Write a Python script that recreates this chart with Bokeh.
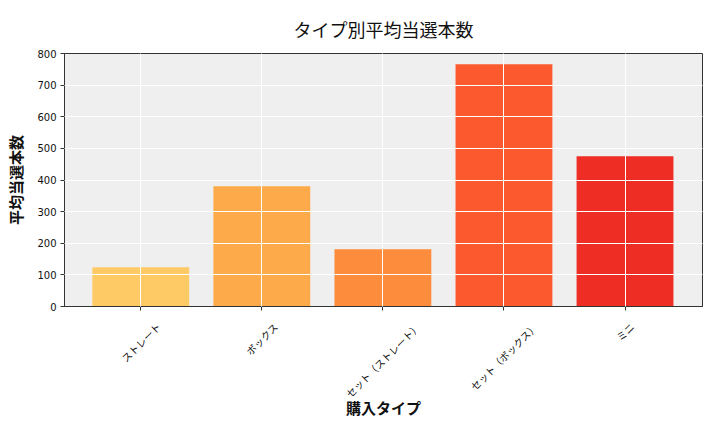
from bokeh.plotting import figure
from bokeh.models import Range1d, FixedTicker, LinearAxis, ColumnDataSource
from bokeh.embed import file_html
from bokeh.resources import INLINE
import math

categories = ["ストレート", "ボックス", "セット（ストレート）", "セット（ボックス）", "ミニ"]
avg_counts = [124, 380, 181, 766, 475]
colors = ["#FECA66", "#FDAA4A", "#FD8D3C", "#FC5A2E", "#EE2E24"]
y_ticks = [0, 100, 200, 300, 400, 500, 600, 700, 800]

FONT = "Noto Sans CJK JP"
TICK_PX = 10
FRAME_W = 638
X_START, X_END = -0.63, len(categories) - 1 + 0.64

pos = list(range(len(categories)))
src = ColumnDataSource(dict(x=pos, val=avg_counts, color=colors))

p = figure(
    frame_width=FRAME_W, frame_height=253,
    x_range=Range1d(X_START, X_END),
    y_range=Range1d(0, 800),
    output_backend="svg", toolbar_location=None,
    min_border_left=64, min_border_top=53, min_border_right=2, min_border_bottom=10,
)
p.title.text = "タイプ別平均当選本数"
p.title.align = "center"
p.title.text_font = FONT
p.title.text_font_size = "18px"
p.title.text_font_style = "normal"
p.title.text_color = "#111111"
p.title.standoff = 24

p.vbar(x="x", top="val", width=0.8, color="color", source=src, line_color=None)

p.background_fill_color = "#EFEFEF"
p.outline_line_color = "#333333"
p.outline_line_width = 1

for g in (p.xgrid, p.ygrid):
    g.grid_line_color = "white"
    g.grid_line_width = 1
    g.level = "overlay"

# main x axis: tick marks only
p.xaxis.ticker = FixedTicker(ticks=pos)
p.xaxis.major_label_text_color = None
p.xaxis.major_label_text_font_size = "1px"
p.xaxis.major_label_standoff = 0

# label axis: rotated labels centred under each tick (like matplotlib)
px_per_unit = FRAME_W / (X_END - X_START)
shift = [len(c) * TICK_PX / 2 * math.sqrt(0.5) / px_per_unit for c in categories]
label_ticks = [i + s for i, s in zip(pos, shift)]
lab_axis = LinearAxis(
    ticker=FixedTicker(ticks=label_ticks),
    major_label_overrides={t: c for t, c in zip(label_ticks, categories)},
    major_label_orientation=math.pi / 4,
    major_label_text_font=FONT, major_label_text_font_size=f"{TICK_PX}px",
    major_label_text_color="#111111", major_label_standoff=8,
    major_tick_line_color=None, minor_tick_line_color=None, axis_line_color=None,
    axis_label="購入タイプ", axis_label_text_font=FONT, axis_label_text_font_size="15px",
    axis_label_text_font_style="bold", axis_label_text_color="#111111",
    axis_label_standoff=-12,
)
p.add_layout(lab_axis, "below")

p.yaxis.ticker = FixedTicker(ticks=y_ticks)
p.yaxis.axis_label = "平均当選本数"
for ax in (p.xaxis[0], p.yaxis[0]):
    ax.axis_line_color = "#333333"
    ax.major_tick_line_color = "#333333"
    ax.major_tick_out = 4
    ax.major_tick_in = 0
    ax.minor_tick_line_color = None
p.yaxis.axis_label_text_font = FONT
p.yaxis.axis_label_text_font_size = "15px"
p.yaxis.axis_label_text_font_style = "bold"
p.yaxis.axis_label_text_color = "#111111"
p.yaxis.major_label_text_font = "DejaVu Sans"
p.yaxis.major_label_text_font_size = "10px"
p.yaxis.major_label_text_color = "#111111"
p.yaxis.major_label_standoff = 4
p.yaxis.axis_label_standoff = 8

open("out.html", "w").write(file_html(p, INLINE))
